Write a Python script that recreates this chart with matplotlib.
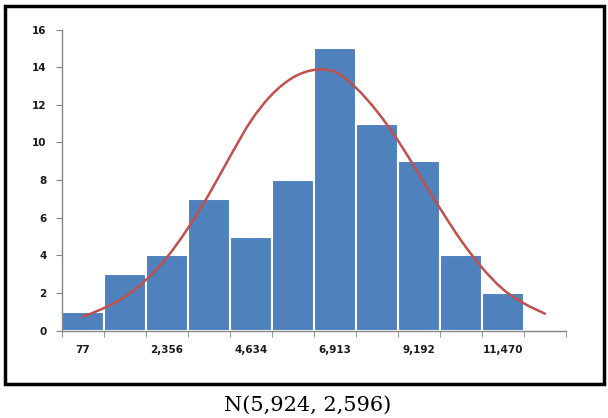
import numpy as np
import matplotlib
matplotlib.use('Agg')
import matplotlib.pyplot as plt
from matplotlib.path import Path
from matplotlib.patches import PathPatch, Rectangle
from matplotlib.ticker import FixedLocator

# histogram counts per bin (Excel category chart, 12 slots, last one empty)
counts = [1, 3, 4, 7, 5, 8, 15, 11, 9, 4, 2]
bin_labels = ['77', '', '2,356', '', '4,634', '', '6,913', '', '9,192', '', '11,470', '']
# fitted normal curve, every half category
curve_x = [0, 0.5, 1, 1.5, 2, 2.5, 3, 3.5, 4, 4.5, 5, 5.5,
           6, 6.5, 7, 7.5, 8, 8.5, 9, 9.5, 10, 10.5, 11]
curve_y = [0.75, 1.2, 1.8, 2.7, 3.9, 5.45, 7.25, 9.25, 11.15, 12.55, 13.45, 13.85,
           13.75, 12.9, 11.65, 10.1, 8.3, 6.5, 4.8, 3.35, 2.2, 1.45, 0.9]
caption = 'N(5,924, 2,596)'

bar_color = '#4F81BD'
line_color = '#C0504D'
axis_color = '#868686'

fig = plt.figure(figsize=(6.08, 4.18), dpi=100)
ax = fig.add_axes([62 / 608, 1 - 330.7 / 418, 504 / 608, 301.2 / 418])

ax.bar(range(len(counts)), counts, width=1.0, color=bar_color,
       edgecolor='white', linewidth=1.5, zorder=2)

# smoothed line like Excel: catmull-rom -> bezier segments in data coords
xs = np.array(curve_x, dtype=float)
ys = np.array(curve_y, dtype=float)
n = len(xs)
verts = [(xs[0], ys[0])]
codes = [Path.MOVETO]
for i in range(n - 1):
    p0 = np.array([xs[max(i - 1, 0)], ys[max(i - 1, 0)]])
    p1 = np.array([xs[i], ys[i]])
    p2 = np.array([xs[i + 1], ys[i + 1]])
    p3 = np.array([xs[min(i + 2, n - 1)], ys[min(i + 2, n - 1)]])
    c1 = p1 + (p2 - p0) / 6
    c2 = p2 - (p3 - p1) / 6
    verts += [tuple(c1), tuple(c2), tuple(p2)]
    codes += [Path.CURVE4] * 3
ax.add_patch(PathPatch(Path(verts, codes), facecolor='none', edgecolor=line_color,
                       linewidth=1.8, zorder=3, capstyle='round'))

ax.set_xlim(-0.5, len(bin_labels) - 0.5)
ax.set_ylim(0, 16)
ax.set_yticks(range(0, 17, 2))

ax.set_xticks(range(len(bin_labels)))
ax.set_xticklabels(bin_labels)
ax.xaxis.set_minor_locator(FixedLocator(np.arange(-0.5, len(bin_labels), 1.0)))
ax.tick_params(axis='x', which='major', length=0, pad=10)
ax.tick_params(axis='x', which='minor', length=4, color=axis_color, direction='out')
ax.tick_params(axis='y', length=4, color=axis_color, direction='out', pad=7)

for lab in ax.get_xticklabels() + ax.get_yticklabels():
    lab.set_fontweight('bold')
    lab.set_fontsize(7.5)
    lab.set_fontfamily('DejaVu Sans')
    lab.set_color('#1a1a1a')

for side in ['top', 'right']:
    ax.spines[side].set_visible(False)
for side in ['left', 'bottom']:
    ax.spines[side].set_color(axis_color)
    ax.spines[side].set_linewidth(1.0)

# black frame around the chart
fig.patches.append(Rectangle((4.5 / 608, 1 - 383.5 / 418), 599 / 608, 378 / 418,
                             transform=fig.transFigure, fill=False,
                             edgecolor='black', linewidth=2.5))

fig.text(308 / 608, 1 - 405 / 418, caption, ha='center', va='center',
         fontsize=15, family='DejaVu Serif')

fig.savefig('out.png', dpi=100)
